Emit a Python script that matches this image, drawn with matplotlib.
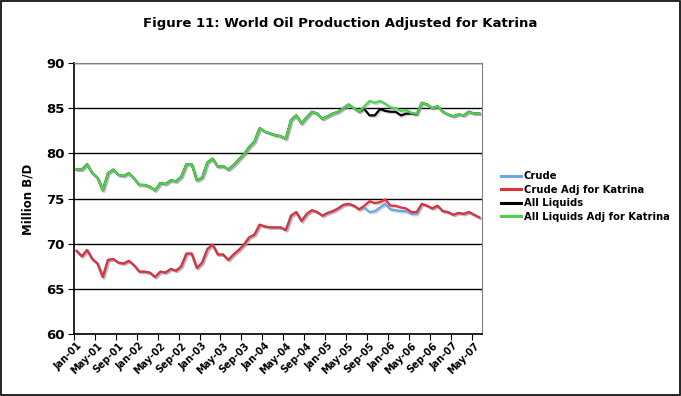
import numpy as np
import pandas as pd
import matplotlib
matplotlib.use("Agg")
import matplotlib.pyplot as plt
import matplotlib.patheffects as pe
from matplotlib.patches import Rectangle

# monthly data, Jan-01 .. Jun-07 (78 months), million barrels/day
months = pd.date_range("2001-01-01", periods=78, freq="MS").strftime("%b-%y").tolist()

crude = [69.2, 68.6, 69.3, 68.3, 67.8, 66.3, 68.2, 68.3, 67.9, 67.8,
         68.1, 67.6, 66.9, 66.9, 66.8, 66.3, 66.9, 66.8, 67.2, 67.0,
         67.5, 68.9, 68.9, 67.3, 67.9, 69.4, 69.9, 68.8, 68.8, 68.2,
         68.8, 69.3, 69.9, 70.7, 71.0, 72.1, 71.9, 71.8, 71.8, 71.8,
         71.5, 73.1, 73.5, 72.5, 73.3, 73.7, 73.5, 73.1, 73.4, 73.6,
         73.9, 74.3, 74.4, 74.2, 73.8, 74.0, 73.5, 73.6, 74.0, 74.4,
         73.8, 73.7, 73.6, 73.6, 73.3, 73.3, 74.4, 74.2, 73.9, 74.2,
         73.6, 73.5, 73.2, 73.4, 73.3, 73.5, 73.2, 72.9]

crude_adj = [69.2, 68.6, 69.3, 68.3, 67.8, 66.3, 68.2, 68.3, 67.9, 67.8,
             68.1, 67.6, 66.9, 66.9, 66.8, 66.3, 66.9, 66.8, 67.2, 67.0,
             67.5, 68.9, 68.9, 67.3, 67.9, 69.4, 69.9, 68.8, 68.8, 68.2,
             68.8, 69.3, 69.9, 70.7, 71.0, 72.1, 71.9, 71.8, 71.8, 71.8,
             71.5, 73.1, 73.5, 72.5, 73.3, 73.7, 73.5, 73.1, 73.4, 73.6,
             73.9, 74.3, 74.4, 74.2, 73.8, 74.2, 74.7, 74.5, 74.6, 74.9,
             74.2, 74.2, 74.0, 73.9, 73.5, 73.5, 74.4, 74.2, 73.9, 74.2,
             73.6, 73.5, 73.2, 73.4, 73.3, 73.5, 73.2, 72.9]

all_liq = [78.2, 78.2, 78.8, 77.8, 77.3, 75.9, 77.8, 78.2, 77.6, 77.5,
           77.8, 77.2, 76.5, 76.5, 76.3, 75.9, 76.7, 76.6, 77.0, 76.9,
           77.4, 78.8, 78.8, 77.0, 77.3, 79.0, 79.4, 78.5, 78.6, 78.2,
           78.7, 79.3, 79.9, 80.7, 81.3, 82.8, 82.4, 82.2, 82.0, 81.9,
           81.6, 83.7, 84.2, 83.3, 84.0, 84.6, 84.4, 83.8, 84.1, 84.4,
           84.6, 85.0, 85.4, 85.0, 84.6, 84.9, 84.2, 84.2, 84.9, 84.7,
           84.6, 84.6, 84.2, 84.4, 84.4, 84.3, 85.6, 85.4, 85.0, 85.2,
           84.6, 84.3, 84.1, 84.3, 84.2, 84.6, 84.4, 84.4]

all_liq_adj = [78.2, 78.2, 78.8, 77.8, 77.3, 75.9, 77.8, 78.2, 77.6, 77.5,
               77.8, 77.2, 76.5, 76.5, 76.3, 75.9, 76.7, 76.6, 77.0, 76.9,
               77.4, 78.8, 78.8, 77.0, 77.3, 79.0, 79.4, 78.5, 78.6, 78.2,
               78.7, 79.3, 79.9, 80.7, 81.3, 82.8, 82.4, 82.2, 82.0, 81.9,
               81.6, 83.7, 84.2, 83.3, 84.0, 84.6, 84.4, 83.8, 84.1, 84.4,
               84.6, 85.0, 85.4, 85.0, 84.6, 85.2, 85.8, 85.6, 85.8, 85.5,
               85.1, 85.0, 84.7, 84.8, 84.5, 84.4, 85.6, 85.4, 85.0, 85.2,
               84.6, 84.3, 84.1, 84.3, 84.2, 84.6, 84.4, 84.4]

series = [
    ("Crude", crude, "#6aa6ee"),
    ("Crude Adj for Katrina", crude_adj, "#e0303a"),
    ("All Liquids", all_liq, "#000000"),
    ("All Liquids Adj for Katrina", all_liq_adj, "#4cd24c"),
]

fig = plt.figure(figsize=(6.81, 3.96), dpi=100)
ax = fig.add_axes([74/681, 1-334/396, 408/681, 271/396])

x = np.arange(len(months))
shadow = [pe.SimpleLineShadow(offset=(1.0, -1.0), shadow_color="#999999", alpha=0.45), pe.Normal()]
handles = []
for name, vals, col in series:
    ln, = ax.plot(x, vals, color=col, lw=1.6, label=name, path_effects=shadow, solid_joinstyle="round")
    handles.append(ln)

ax.set_xlim(-0.5, len(months) - 0.5)
ax.set_ylim(60, 90)
ax.set_yticks(range(60, 91, 5))
ax.yaxis.grid(True, color="black", lw=1)
ax.set_axisbelow(True)
ax.tick_params(axis="y", direction="out", length=4, labelsize=9.5, pad=3)
for t in ax.get_yticklabels():
    t.set_fontweight("bold")

# ticks between categories every 4 months, labels on the categories
ax.set_xticks(np.arange(-0.5, len(months) - 1, 4))
ax.set_xticks(x[::4], minor=True)
ax.set_xticklabels([])
ax.set_xticklabels(months[::4], minor=True, rotation=45, ha="right",
                   rotation_mode="anchor", fontsize=7, fontweight="bold")
ax.tick_params(axis="x", which="major", direction="out", length=4)
ax.tick_params(axis="x", which="minor", length=0, pad=5)

for s in ["top", "right"]:
    ax.spines[s].set_color("#808080")
for s in ["left", "bottom"]:
    ax.spines[s].set_color("black")
    ax.spines[s].set_linewidth(1.2)

fig.text(0.5, 1-24/396, "Figure 11: World Oil Production Adjusted for Katrina",
         ha="center", va="center", fontsize=9.5, fontweight="bold")
fig.text(28/681, 1-199/396, "Million B/D", rotation=90, ha="center", va="center",
         fontsize=8.5, fontweight="bold")

leg = fig.legend(handles=handles, loc="upper left", bbox_to_anchor=(501/681, 1-171/396),
                 frameon=False, handlelength=2.0, handletextpad=0.3,
                 labelspacing=0.35, borderpad=0, borderaxespad=0, prop={"weight": "bold", "size": 7.2})
for l in leg.get_lines():
    l.set_path_effects([])
    l.set_linewidth(2.2)

fig.patches.append(Rectangle((0.002, 0.003), 0.996, 0.994, transform=fig.transFigure,
                             fill=False, edgecolor="black", lw=1.2))

fig.savefig("out.png", dpi=100)
